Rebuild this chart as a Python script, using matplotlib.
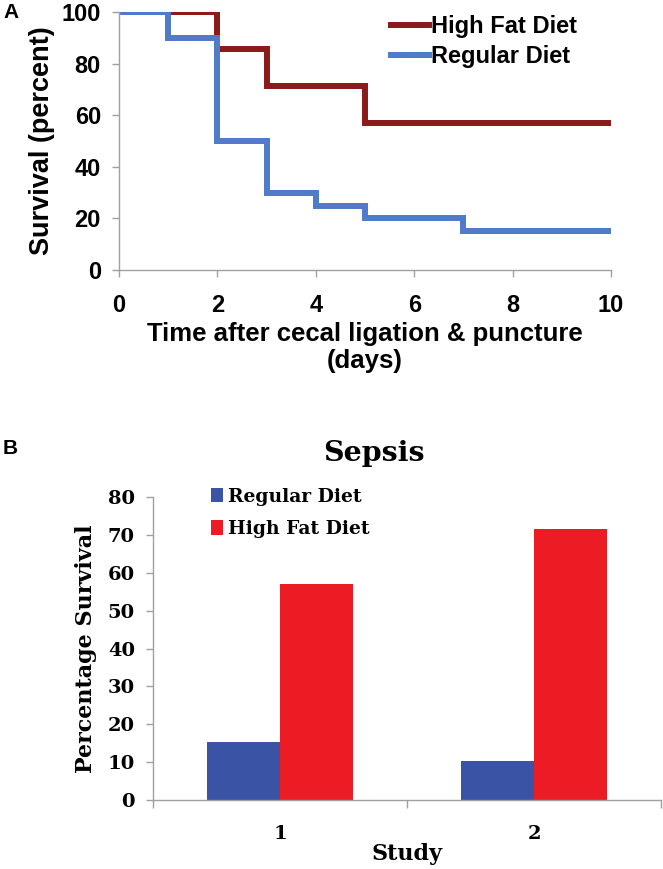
import matplotlib
matplotlib.use("Agg")
from matplotlib import pyplot as plt
import numpy as np

# panel A: Kaplan-Meier survival steps
hfd_days = [0, 2, 3, 5, 10]
hfd_surv = [100, 85.7, 71.4, 57.1, 57.1]
reg_days = [0, 1, 2, 3, 4, 5, 7, 10]
reg_surv = [100, 90, 50, 30, 25, 20, 15, 15]

# panel B: survival per study
studies = ["1", "2"]
regular_pct = [15.2, 10.2]
highfat_pct = [57.1, 71.6]

sans = ['Liberation Sans', 'DejaVu Sans']
serif = ['DejaVu Serif']
grey = '#a0a0a0'

fig = plt.figure(figsize=(6.63, 8.69), dpi=100)

# ---- A ----
ax = fig.add_axes([119 / 663, 1 - 270 / 869, 492 / 663, 258 / 869])
ax.step(hfd_days, hfd_surv, where='post', color='#8b1a1a', lw=4.3,
        label='High Fat Diet', solid_joinstyle='miter')
ax.step(reg_days, reg_surv, where='post', color='#4f7bc8', lw=4.3,
        label='Regular Diet', solid_joinstyle='miter')
ax.set_xlim(0, 10)
ax.set_ylim(0, 100)
ax.set_xticks(np.arange(0, 11, 2))
ax.set_yticks(np.arange(0, 101, 20))
for s in ['top', 'right']:
    ax.spines[s].set_visible(False)
for s in ['left', 'bottom']:
    ax.spines[s].set_color(grey)
    ax.spines[s].set_linewidth(1)
ax.tick_params(axis='y', colors=grey, length=5, width=1, pad=8)
ax.tick_params(axis='x', colors=grey, length=5, width=1, pad=12)
for lab in ax.get_xticklabels() + ax.get_yticklabels():
    lab.set_family(sans)
    lab.set_fontsize(17)
    lab.set_fontweight('bold')
    lab.set_color('black')
ax.set_ylabel('Survival (percent)', family=sans, fontsize=19.5, fontweight='bold', labelpad=5)
ax.set_xlabel('Time after cecal ligation & puncture\n(days)', family=sans, fontsize=18.5,
              fontweight='bold', labelpad=4, linespacing=1.15)
ax.legend(loc='upper right', bbox_to_anchor=(0.974, 1.07), frameon=False,
          prop={'family': sans, 'size': 17, 'weight': 'bold'},
          handlelength=1.6, handletextpad=0.1, labelspacing=0.3)

# ---- B ----
bx = fig.add_axes([153 / 663, 1 - 800 / 869, 508 / 663, 303 / 869])
x = np.arange(1, len(studies) + 1)
w = 0.288
bx.bar(x - w / 2, regular_pct, w, color='#3b53a4', label='Regular Diet')
bx.bar(x + w / 2, highfat_pct, w, color='#ec1c24', label='High Fat Diet')
bx.set_xlim(0.5, len(studies) + 0.5)
bx.set_ylim(0, 80)
bx.set_yticks(np.arange(0, 81, 10))
bx.set_xticks(x)
bx.set_xticklabels(studies)
bx.set_xticks(np.arange(0.5, len(studies) + 1, 1), minor=True)
for s in ['top', 'right']:
    bx.spines[s].set_visible(False)
for s in ['left', 'bottom']:
    bx.spines[s].set_color(grey)
    bx.spines[s].set_linewidth(1)
bx.tick_params(axis='y', colors=grey, length=5, width=1, pad=8)
bx.tick_params(axis='x', which='major', length=0, pad=18)
bx.tick_params(axis='x', which='minor', colors=grey, length=6, width=1)
for lab in bx.get_xticklabels() + bx.get_yticklabels():
    lab.set_family(serif)
    lab.set_fontsize(14)
    lab.set_fontweight('bold')
    lab.set_color('black')
bx.set_ylabel('Percentage Survival', family=serif, fontsize=16, fontweight='bold', labelpad=8)
bx.set_xlabel('Study', family=serif, fontsize=16, fontweight='bold', labelpad=0)
bx.set_title('Sepsis', family=serif, fontsize=20.5, fontweight='bold', pad=26, x=0.435)
bx.legend(loc='upper left', bbox_to_anchor=(0.081, 1.086), frameon=False,
          prop={'family': serif, 'size': 13.5, 'weight': 'bold'},
          handlelength=0.65, handleheight=0.8, handletextpad=0.27, labelspacing=0.76)

fig.text(3 / 663, 1 - 12 / 869, 'A', family=sans, fontsize=15, fontweight='bold', va='center')
fig.text(3 / 663, 1 - 448 / 869, 'B', family=sans, fontsize=15, fontweight='bold', va='center')

fig.savefig('out.png', dpi=100)
